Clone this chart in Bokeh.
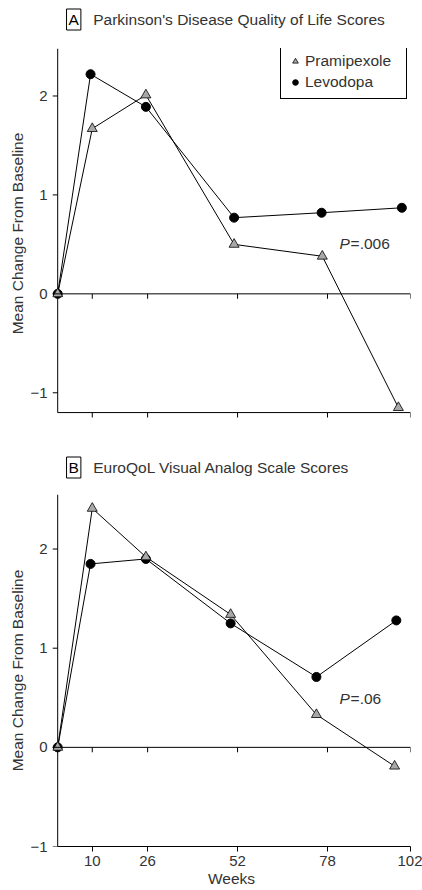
from bokeh.plotting import figure
from bokeh.layouts import column
from bokeh.models import Range1d, FixedTicker, Span, Label, Legend, LegendItem
from bokeh.embed import file_html
from bokeh.resources import INLINE

# ---------------- data ----------------
week_ticks = [10, 26, 52, 78, 102]
week_tick_labels = ["10", "26", "52", "78", "102"]
y_ticks = [-1, 0, 1, 2]

# Panel A: Parkinson's Disease Quality of Life Scores
a_weeks_pram = [0, 10, 25.5, 51, 76.5, 98.5]
a_pram = [0.0, 1.67, 2.01, 0.50, 0.38, -1.15]
a_weeks_levo = [0, 9.5, 25.5, 51, 76.3, 99.5]
a_levo = [0.0, 2.22, 1.89, 0.77, 0.82, 0.87]

# Panel B: EuroQoL Visual Analog Scale Scores
b_weeks_pram = [0, 10, 25.5, 50, 74.8, 97.4]
b_pram = [0.0, 2.41, 1.92, 1.34, 0.33, -0.19]
b_weeks_levo = [0, 9.5, 25.5, 50, 74.8, 97.9]
b_levo = [0.0, 1.85, 1.90, 1.25, 0.71, 1.28]

FONT = "Liberation Sans"
TXT = "#333333"
TRI_FILL = "#a8a8a8"
W = 422
TICK_W = 1.5      # tick length in weeks (~5 px)


def title_fig(letter, title, height, cy):
    t = figure(width=W, height=height, x_range=Range1d(0, W), y_range=Range1d(0, height),
               output_backend="svg", toolbar_location=None, title=None,
               x_axis_type=None, y_axis_type=None, min_border=0)
    t.outline_line_color = None
    t.add_layout(Label(text=letter, x=25, y=cy, text_align="center",
                       text_baseline="middle", text_font=FONT, text_font_size="15.5px",
                       text_color="black", border_line_color="black",
                       border_line_width=1, padding=2))
    t.add_layout(Label(text=title, x=48, y=cy, text_align="left",
                       text_baseline="middle", text_font=FONT, text_font_size="15.5px",
                       text_color=TXT))
    return t


def make_panel(wp, yp, wl, yl, y_lo, y_axis_lo, y_hi, height, top, bottom,
               show_xlabels, p_text, p_y, legend):
    p = figure(width=W, height=height, x_range=Range1d(-TICK_W, 102),
               y_range=Range1d(y_lo, y_hi), output_backend="svg", title=None,
               toolbar_location=None, min_border_left=52, min_border_right=12,
               min_border_top=top, min_border_bottom=bottom)
    p.outline_line_color = None
    p.xgrid.visible = False
    p.ygrid.visible = False
    x0 = wp[0]

    # x axis
    xa = p.xaxis[0]
    if show_xlabels:
        xa.ticker = FixedTicker(ticks=week_ticks)
        xa.major_label_overrides = dict(zip(week_ticks, week_tick_labels))
        xa.bounds = (x0, week_ticks[-1])
        xa.minor_tick_line_color = None
        xa.major_tick_in = 0
        xa.major_tick_out = 5
        xa.axis_line_color = "black"
        xa.major_tick_line_color = "black"
        xa.major_label_text_font = FONT
        xa.major_label_text_color = TXT
        xa.major_label_text_font_size = "15px"
        xa.major_label_standoff = 4
        xa.axis_label = "Weeks"
        xa.axis_label_text_font = FONT
        xa.axis_label_text_font_size = "15.5px"
        xa.axis_label_text_font_style = "normal"
        xa.axis_label_text_color = TXT
        xa.axis_label_standoff = 1
    else:
        xa.visible = False
        # lower frame line with its tick marks
        p.line([x0, week_ticks[-1]], [y_axis_lo, y_axis_lo], line_color="black", line_width=1)
        p.segment(x0=week_ticks, y0=[y_axis_lo] * len(week_ticks), x1=week_ticks,
                  y1=[y_axis_lo - 0.05] * len(week_ticks), line_color="black", line_width=1)

    # y axis: labels from Bokeh axis, rule drawn at week 0
    ya = p.yaxis[0]
    ya.ticker = FixedTicker(ticks=y_ticks)
    ya.major_label_overrides = {-1: "\u22121"}
    ya.minor_tick_line_color = None
    ya.major_tick_in = 0
    ya.major_tick_out = 0
    ya.axis_line_color = None
    ya.major_tick_line_color = None
    ya.major_label_text_font = FONT
    ya.major_label_text_font_size = "15px"
    ya.major_label_text_color = TXT
    ya.major_label_standoff = 5
    ya.axis_label = "Mean Change From Baseline"
    ya.axis_label_text_font = FONT
    ya.axis_label_text_font_size = "15.5px"
    ya.axis_label_text_font_style = "normal"
    ya.axis_label_text_color = TXT
    ya.axis_label_standoff = 1
    p.line([x0, x0], [y_axis_lo, y_hi], line_color="black", line_width=1)
    p.segment(x0=[x0] * len(y_ticks), y0=y_ticks, x1=[x0 - TICK_W] * len(y_ticks),
              y1=y_ticks, line_color="black", line_width=1)

    # zero line with tick marks
    p.add_layout(Span(location=0, dimension="width", line_color="black", line_width=1))
    p.segment(x0=week_ticks, y0=[0] * len(week_ticks), x1=week_ticks,
              y1=[-0.05] * len(week_ticks), line_color="black", line_width=1)

    # series
    p.line(wl, yl, line_color="black", line_width=1)
    p.line(wp, yp, line_color="black", line_width=1)
    r_levo = p.scatter(wl, yl, marker="circle", size=9, fill_color="black",
                       line_color="black")
    r_pram = p.scatter(wp, yp, marker="triangle", size=10, fill_color=TRI_FILL,
                       line_color="black", line_width=0.8)

    # P value
    p.add_layout(Label(text="P", x=81.5, y=p_y, text_align="left",
                       text_baseline="middle", text_font=FONT, text_font_size="15.5px",
                       text_font_style="italic", text_color=TXT))
    p.add_layout(Label(text=p_text, x=81.5, y=p_y, x_offset=11, text_align="left",
                       text_baseline="middle", text_font=FONT, text_font_size="15.5px",
                       text_color=TXT))

    if legend:
        frame_h = height - top - bottom
        lg = Legend(items=[LegendItem(label="Pramipexole", renderers=[r_pram]),
                           LegendItem(label="Levodopa", renderers=[r_levo])],
                    location=(228, frame_h - 51))
        lg.border_line_color = "black"
        lg.border_line_width = 1
        lg.border_line_alpha = 1
        lg.background_fill_color = "white"
        lg.background_fill_alpha = 1
        lg.padding = 7
        lg.spacing = 3
        lg.margin = 0
        lg.label_standoff = 3
        lg.glyph_width = 14
        lg.glyph_height = 14
        lg.label_height = 16
        lg.label_width = 94
        lg.label_text_font = FONT
        lg.label_text_font_size = "15.5px"
        lg.label_text_color = TXT
        p.add_layout(lg)
    return p


ta = title_fig("A", "Parkinson's Disease Quality of Life Scores", 38, 19)
pa = make_panel(a_weeks_pram, a_pram, a_weeks_levo, a_levo,
                -1.26, -1.2, 2.48, 382, 10, 2, False, "=.006", 0.505, True)
tb = title_fig("B", "EuroQoL Visual Analog Scale Scores", 60, 13)
pb = make_panel(b_weeks_pram, b_pram, b_weeks_levo, b_levo,
                -1.0, -1.0, 2.55, 410, 14, 44, True, "=.06", 0.497, False)

layout = column(ta, pa, tb, pb, spacing=0)
open("out.html", "w").write(file_html(layout, INLINE))
